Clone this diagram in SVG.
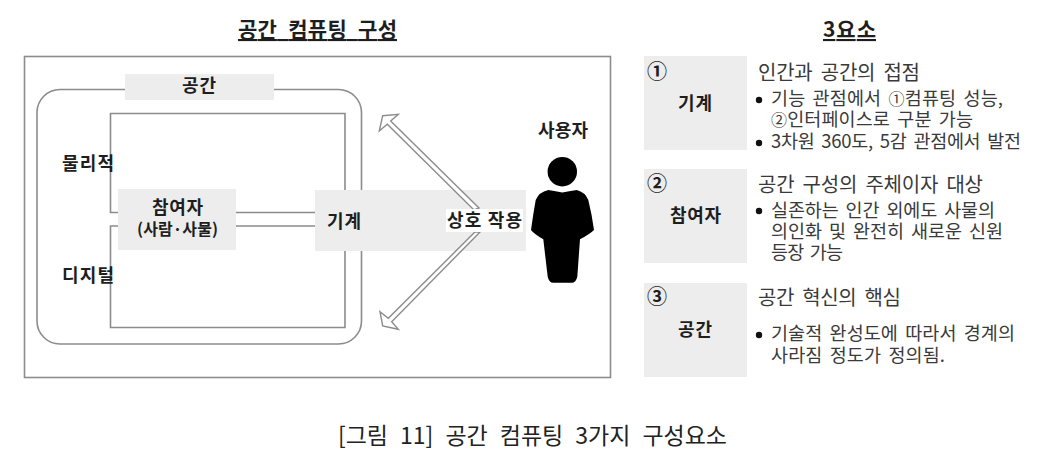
<svg xmlns="http://www.w3.org/2000/svg" width="1041" height="465" viewBox="0 0 1041 465">
<defs>
<style>
text{font-family:"Noto Sans CJK KR","Liberation Sans",sans-serif;fill:#1e1e1e}
.b{font-weight:700;font-size:18px}
.h{font-weight:700;font-size:21px;word-spacing:6px;text-decoration:underline;text-decoration-skip-ink:none}
.t{font-size:18.500px;word-spacing:3px;fill:#3a3a3a}
.s{font-size:20px;word-spacing:4px;fill:#3a3a3a}
.c{font-size:16px}
.n{font-size:20px;font-weight:700}
.g{fill:#ededed}
.l{fill:none;stroke:#8c8c8c;stroke-width:1.6}
.a{fill:#fff;stroke:#8c8c8c;stroke-width:1.4}
.d{fill:#111}
</style>
</defs>
<rect width="1041" height="465" fill="#fff"/>
<text class="h" x="238" y="37" textLength="159">공간 컴퓨팅 구성</text>
<text class="h" x="823" y="37" textLength="53">3요소</text>
<g id="frame"><rect class="l" x="24.500" y="56.500" width="586" height="321"/></g>
<g id="space-boundary">
<rect class="l" x="37" y="89.500" width="324.500" height="254.500" rx="23"/>
<path class="l" d="M118 212.500H110.500V113.500H345V327.500H110.500V226H118"/>
</g>
<g id="participant-box"><rect class="g" x="118" y="189" width="118" height="61"/></g>
<g id="machine-box"><rect class="g" x="315" y="190" width="211" height="61"/></g>
<g id="connectors">
<path class="l" d="M236 212.500H315M236 226H315"/>
<path class="a" d="M479 208 390.700 121 398.300 114.300 382.700 115.700 379.300 131 387.300 124.300 474 210Z"/>
<path class="a" d="M480 232 391.700 321.700 398.300 329.300 382.700 326 380 311.700 388.300 318.300 475 232Z"/>
</g>
<g id="space-label"><rect class="g" x="125" y="74" width="149" height="26"/><text class="b" x="182" y="92" textLength="34">공간</text></g>
<g id="physical-label"><text class="b" x="62" y="170" textLength="52">물리적</text></g>
<g id="digital-label"><text class="b" x="62" y="282" textLength="52">디지털</text></g>
<g id="participant"><text class="b" x="152" y="214" textLength="51">참여자</text><text class="b" x="137" y="235" textLength="81" style="font-size:16px">(사람·사물)</text></g>
<g id="machine"><text class="b" x="327" y="228" textLength="34">기계</text></g>
<g id="interaction"><rect x="446" y="209" width="77" height="23" fill="#fff"/><text class="b" x="447" y="227" textLength="75">상호 작용</text></g>
<g id="user">
<text class="b" x="538" y="137" textLength="50">사용자</text>
<circle cx="562.300" cy="171.700" r="14.700" fill="#000"/>
<path d="M548.300 190Q556 191 562.300 192.500Q569 191 576.700 190Q585 192 588.300 200Q592 215 594 230Q590 234 580 239.300L577.300 276.700Q576 282.700 571.700 282.700H553.300Q549 282.700 547.700 276.700L543.300 239.300Q534 234 531 230Q533 215 535.700 200Q539 192 548.300 190Z" fill="#000"/>
</g>
<g id="card-machine">
<rect class="g" x="644" y="56" width="103" height="94"/>
<text class="n" x="647" y="79">①</text>
<text class="b" x="678" y="110" textLength="34">기계</text>
<text class="s" x="758" y="80" textLength="162">인간과 공간의 접점</text>
<circle class="d" cx="759" cy="100" r="3.200"/>
<text class="t" x="771" y="105" textLength="232">기능 관점에서 <tspan class="c">①</tspan>컴퓨팅 성능,</text>
<text class="t" x="771" y="126" textLength="202"><tspan class="c">②</tspan>인터페이스로 구분 가능</text>
<circle class="d" cx="759" cy="143" r="3.200"/>
<text class="t" x="771" y="148" textLength="250">3차원 360도, 5감 관점에서 발전</text>
</g>
<g id="card-participant">
<rect class="g" x="644" y="169" width="103" height="94"/>
<text class="n" x="647" y="191">②</text>
<text class="b" x="670" y="222" textLength="51">참여자</text>
<text class="s" x="758" y="192" textLength="225">공간 구성의 주체이자 대상</text>
<circle class="d" cx="759" cy="211" r="3.200"/>
<text class="t" x="771" y="217" textLength="224">실존하는 인간 외에도 사물의</text>
<text class="t" x="771" y="238" textLength="232">의인화 및 완전히 새로운 신원</text>
<text class="t" x="771" y="259" textLength="72">등장 가능</text>
</g>
<g id="card-space">
<rect class="g" x="644" y="283" width="103" height="94"/>
<text class="n" x="647" y="304">③</text>
<text class="b" x="678" y="336" textLength="34">공간</text>
<text class="s" x="758" y="305" textLength="143">공간 혁신의 핵심</text>
<circle class="d" cx="759" cy="335" r="3.200"/>
<text class="t" x="771" y="340" textLength="244">기술적 완성도에 따라서 경계의</text>
<text class="t" x="771" y="362" textLength="174">사라짐 정도가 정의됨.</text>
</g>
<text x="338" y="444" textLength="389" style="font-size:23px;word-spacing:7px;fill:#222">[그림 11] 공간 컴퓨팅 3가지 구성요소</text>
</svg>
